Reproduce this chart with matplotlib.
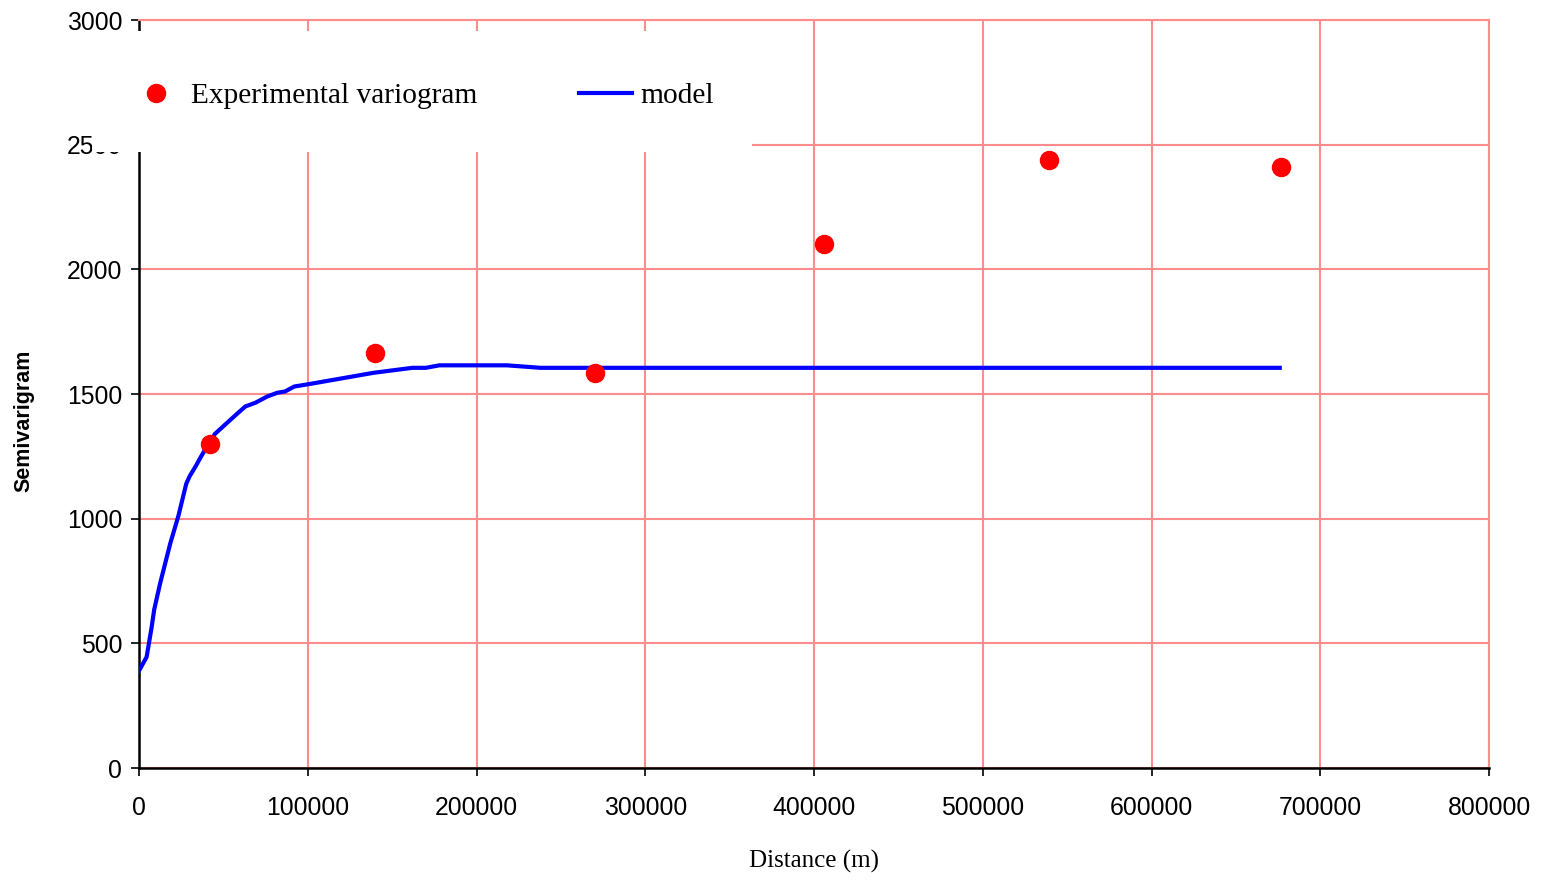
#!/usr/bin/python

import numpy as np
import matplotlib
matplotlib.use('Agg')
import matplotlib.pyplot as plt
from matplotlib.patches import Rectangle

# Experimental variogram (distance in m, semivariance)
exp_dist = [42000, 140000, 270000, 406000, 539000, 677000]
exp_gamma = [1300, 1665, 1584, 2100, 2440, 2412]

# Fitted model curve
model_dist = [0, 4500, 7500, 9000, 12500, 18500, 23300, 28000, 30000, 34000,
              36000, 39000, 45000, 58000, 63000, 69000, 76000, 82000, 86500,
              92000, 101000, 139000, 162000, 170000, 178000, 218000, 238000,
              676000]
model_gamma = [390, 445, 565, 635, 740, 900, 1010, 1140, 1170, 1215,
               1240, 1275, 1340, 1420, 1450, 1465, 1490, 1505, 1510,
               1530, 1540, 1585, 1605, 1605, 1615, 1615, 1605,
               1605]

x_ticks = [0, 100000, 200000, 300000, 400000, 500000, 600000, 700000, 800000]
y_ticks = [0, 500, 1000, 1500, 2000, 2500, 3000]

W, H = 1541, 881
grid_color = '#FF8C8C'


def main():
    fig = plt.figure(figsize=(W / 100, H / 100), dpi=100)
    ax = fig.add_axes([139 / W, 1 - 768 / H, (1489 - 139) / W, (768 - 20) / H])

    ax.plot(model_dist, model_gamma, color='#0000FF', linewidth=3,
            label='model', zorder=3)
    ax.plot(exp_dist, exp_gamma, 'o', color='#FF0000', markersize=13,
            label='Experimental variogram', zorder=4)

    ax.set_xlim(0, 800000)
    ax.set_ylim(0, 3000)
    ax.set_xticks(x_ticks)
    ax.set_yticks(y_ticks)
    ax.set_xticklabels([str(v) for v in x_ticks], family='Liberation Sans', fontsize=17.8)
    ax.set_yticklabels([str(v) for v in y_ticks], family='Liberation Sans', fontsize=17.8)
    ax.tick_params(axis='x', direction='out', length=6, width=1.2, pad=14)
    ax.tick_params(axis='y', direction='out', length=6, width=1.2, pad=6)

    ax.grid(True, color=grid_color, linewidth=1.5)
    ax.set_axisbelow(True)
    for side in ['top', 'right']:
        ax.spines[side].set_color(grid_color)
        ax.spines[side].set_linewidth(1.5)
    for side in ['left', 'bottom']:
        ax.spines[side].set_color('black')
        ax.spines[side].set_linewidth(1.8)

    fig.text(24 / W, 1 - 421 / H, 'Semivarigram', rotation=90, ha='center',
             va='center', family='Liberation Sans', fontweight='bold', fontsize=15.5)
    fig.text(814 / W, 1 - 861 / H, 'Distance (m)', ha='center', va='center',
             family='Liberation Serif', fontsize=18)

    # white legend box sitting over the top-left of the plot
    box = Rectangle((92 / W, 1 - 152 / H), 660 / W, 121 / H,
                    transform=fig.transFigure, facecolor='white',
                    edgecolor='none', zorder=5)
    fig.add_artist(box)

    handles, labels = ax.get_legend_handles_labels()
    leg = fig.legend(handles[::-1], labels[::-1], loc='center left',
                     bbox_to_anchor=(129 / W, 1 - 96 / H), ncol=2,
                     frameon=False, borderpad=0, borderaxespad=0,
                     handlelength=1.8, handletextpad=0.3, columnspacing=3.45,
                     prop={'family': 'Liberation Serif', 'size': 21.2})
    leg.set_zorder(6)

    fig.savefig('out.png', dpi=100)


if __name__ == '__main__':
    main()
